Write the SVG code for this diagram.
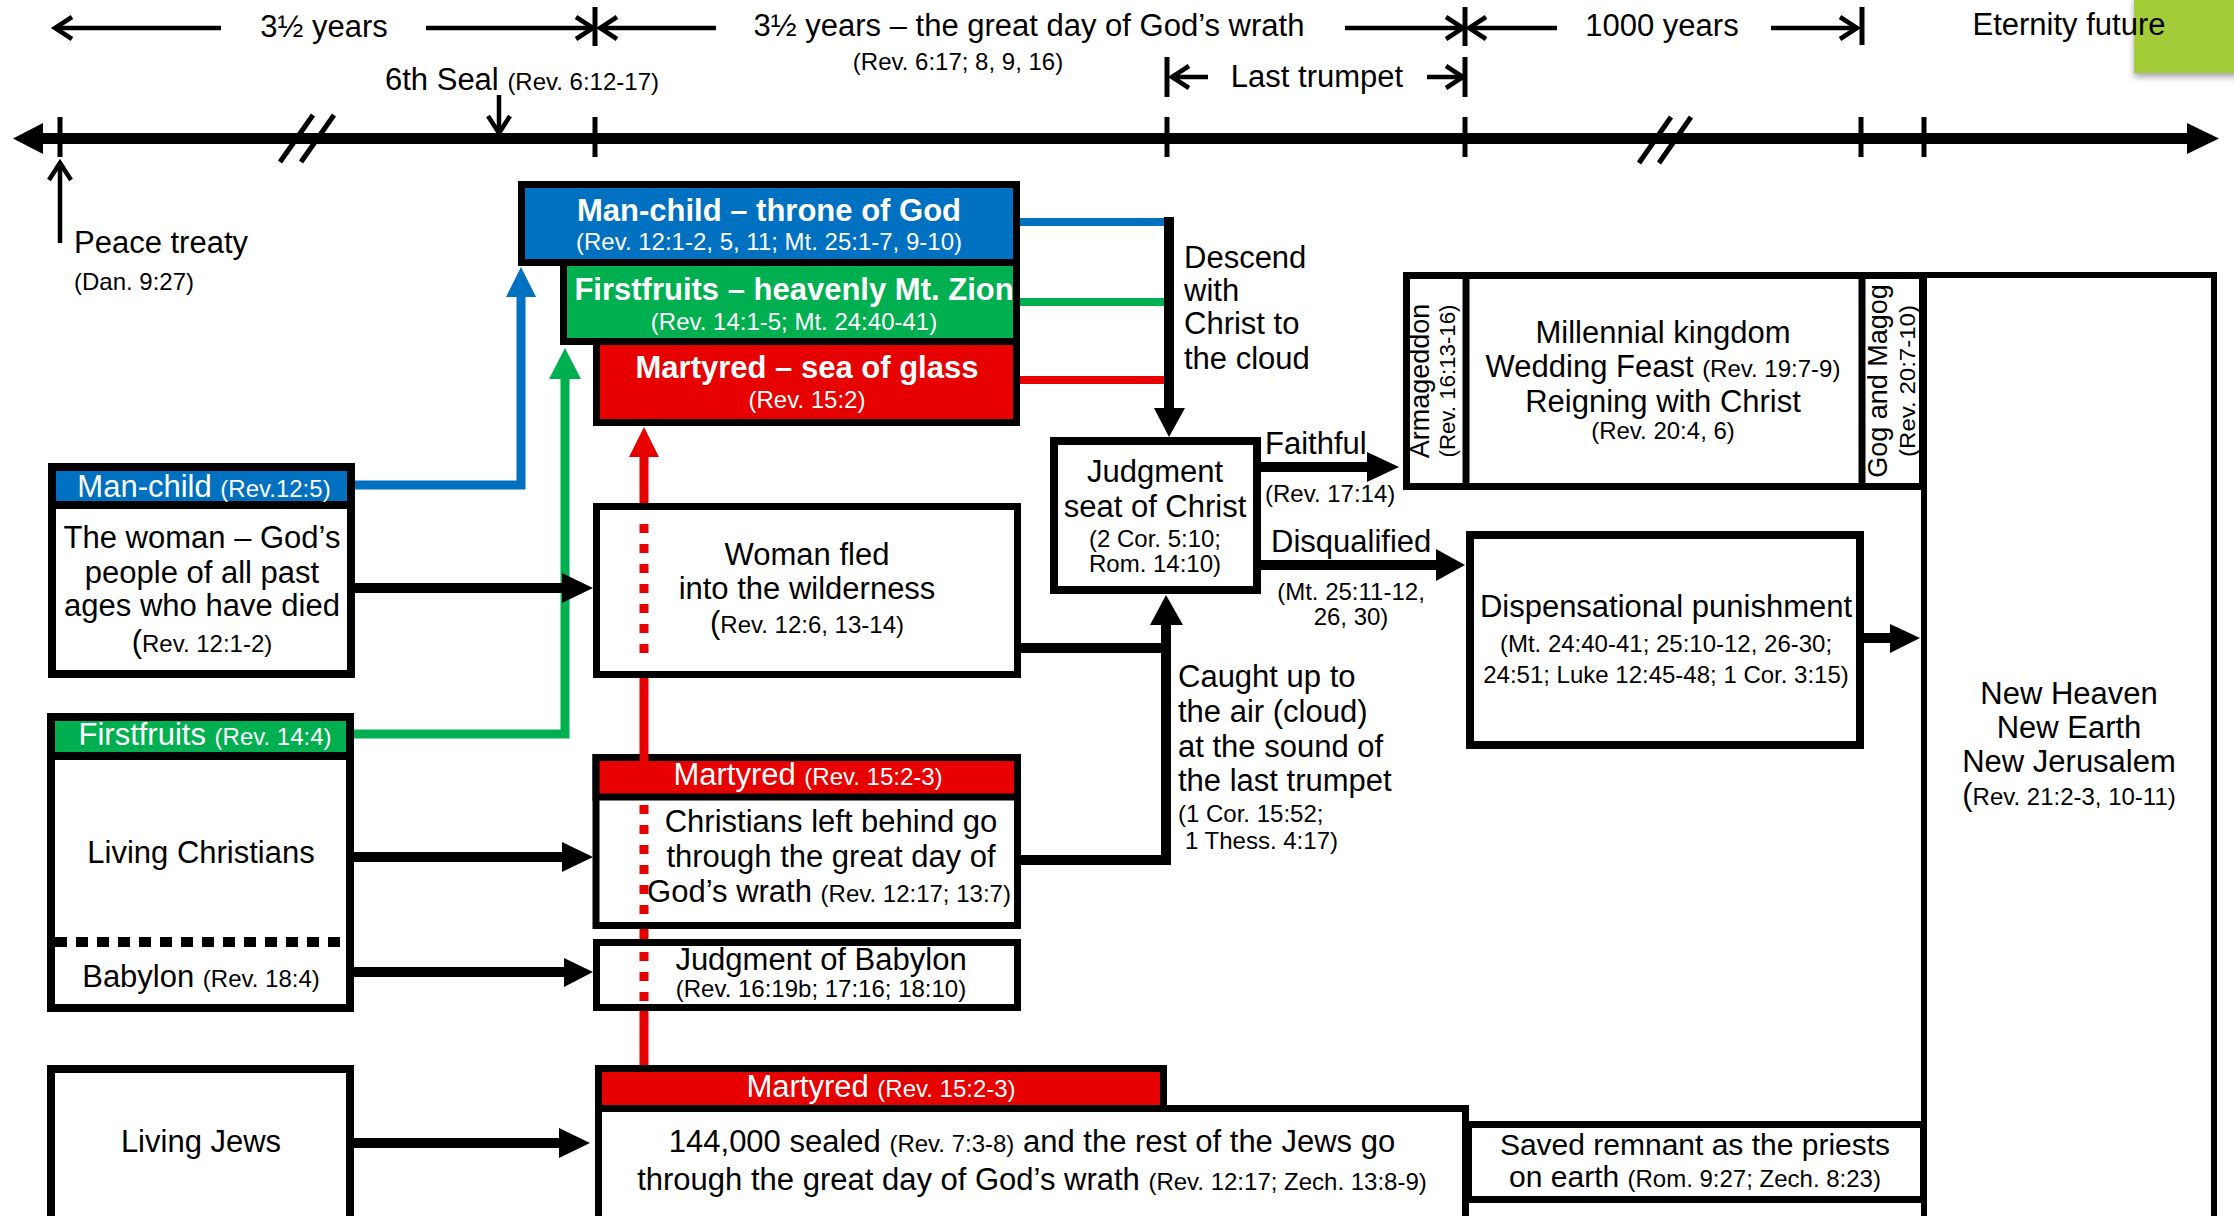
<svg xmlns="http://www.w3.org/2000/svg" width="2234" height="1216" viewBox="0 0 2234 1216">
<defs>
<style>
text{font-family:"Liberation Sans",Arial,sans-serif;font-size:31px;fill:#000}
.s{font-size:24px}
.p{font-size:31px}
.b{font-weight:bold}
.w{fill:#fff}
.c{text-anchor:middle}
.bx{fill:#fff;stroke:#000;stroke-width:7}
.bx8{fill:#fff;stroke:#000;stroke-width:8}
.blue{fill:#0070c0}
.green{fill:#00b050}
.red{fill:#e60000}
.ln{fill:none;stroke:#000;stroke-width:10}
.bar{fill:none;stroke:#000;stroke-width:5}
.thin{fill:none;stroke:#000;stroke-width:4.5;marker-end:url(#ch)}
.ah{fill:#000}
.rl{fill:none;stroke:#e60000;stroke-width:9}
.rd{fill:none;stroke:#e60000;stroke-width:9;stroke-dasharray:9 11}
</style>
<marker id="ch" markerUnits="userSpaceOnUse" viewBox="-24 -16 30 32" markerWidth="30" markerHeight="32" refX="0" refY="0" orient="auto">
<path d="M-17,-11 L0,0 L-17,11" fill="none" stroke="#000" stroke-width="4.5"/>
</marker>
<filter id="sh" x="-10%" y="-10%" width="130%" height="140%"><feDropShadow dx="0" dy="4" stdDeviation="3" flood-color="#000" flood-opacity="0.35"/></filter>
</defs>
<rect width="2234" height="1216" fill="#fff"/>
<rect x="2134" y="-5" width="105" height="78" fill="#a4cc39" filter="url(#sh)"/>

<g id="timeline">
<path d="M43,138.5 H2187" stroke="#000" stroke-width="11" fill="none"/>
<polygon class="ah" points="13,138.5 43,123 43,154"/>
<polygon class="ah" points="2219,138.5 2187,123 2187,154"/>
<path class="bar" d="M60,117V157 M595,117V157 M1167,117V157 M1465,117V157 M1861,117V157 M1924,117V157"/>
<path class="bar" d="M280,162 L313,115 M301,162 L334,115 M1639,163 L1671,117 M1659,163 L1691,117"/>
<path class="thin" d="M221,28 H55"/>
<path class="thin" d="M426,28 H593"/>
<path class="thin" d="M716,28 H600"/>
<path class="thin" d="M1345,28 H1463"/>
<path class="thin" d="M1557,28 H1469"/>
<path class="thin" d="M1771,28 H1857"/>
<path class="thin" d="M1208,77 H1172"/>
<path class="thin" d="M1427,77 H1463"/>
<path class="thin" d="M499,95 V133"/>
<path class="thin" d="M60,243 V163"/>
<path class="bar" d="M595,7V46 M1465,7V46 M1862,7V45 M1167,57V97 M1465,57V97" stroke-width="4.5"/>
<text class="c" x="324" y="37">3½ years</text>
<text class="c" x="1029" y="36">3½ years – the great day of God’s wrath</text>
<text class="c s" x="958" y="70">(Rev. 6:17; 8, 9, 16)</text>
<text class="c" x="1317" y="87">Last trumpet</text>
<text class="c" x="1662" y="36">1000 years</text>
<text class="c" x="2069" y="35">Eternity future</text>
<text x="385" y="90">6th Seal <tspan class="s">(Rev. 6:12-17)</tspan></text>
<text x="74" y="253">Peace treaty</text>
<text class="s" x="74" y="290">(Dan. 9:27)</text>
</g>

<g id="martyred-sea-of-glass">
<rect class="bx red" x="596.5" y="341.5" width="420" height="81"/>
<text class="c b w" x="807" y="378">Martyred – sea of glass</text>
<text class="c s w" x="807" y="408">(Rev. 15:2)</text>
</g>
<g id="firstfruits-mt-zion">
<rect class="bx green" x="563.5" y="262.5" width="453" height="79"/>
<text class="c b w" x="794" y="300">Firstfruits – heavenly Mt. Zion</text>
<text class="c s w" x="794" y="330">(Rev. 14:1-5; Mt. 24:40-41)</text>
</g>
<g id="manchild-throne">
<rect class="bx blue" x="521.5" y="184.5" width="495" height="78"/>
<text class="c b w" x="769" y="221">Man-child – throne of God</text>
<text class="c s w" x="769" y="250">(Rev. 12:1-2, 5, 11; Mt. 25:1-7, 9-10)</text>
</g>

<g id="judgment-seat">
<rect class="bx8" x="1054" y="441" width="203" height="149"/>
<text class="c" x="1155" y="482">Judgment</text>
<text class="c" x="1155" y="517">seat of Christ</text>
<text class="c s" x="1155" y="547">(2 Cor. 5:10;</text>
<text class="c s" x="1155" y="572">Rom. 14:10)</text>
</g>

<g id="millennium">
<rect class="bx" x="1406.5" y="275.5" width="516" height="211"/>
<path d="M1466,272V490 M1862,272V490" stroke="#000" stroke-width="7"/>
<text class="c" transform="translate(1429,381) rotate(-90)" style="font-size:27px">Armageddon</text>
<text class="c" transform="translate(1455,381) rotate(-90)" style="font-size:22px" textLength="153" lengthAdjust="spacingAndGlyphs">(Rev. 16:13-16)</text>
<text class="c" x="1663" y="343">Millennial kingdom</text>
<text class="c" x="1663" y="377">Wedding Feast <tspan class="s">(Rev. 19:7-9)</tspan></text>
<text class="c" x="1663" y="412">Reigning with Christ</text>
<text class="c s" x="1663" y="439">(Rev. 20:4, 6)</text>
<text class="c" transform="translate(1887,381) rotate(-90)" style="font-size:27px">Gog and Magog</text>
<text class="c" transform="translate(1915,381) rotate(-90)" style="font-size:22px" textLength="152" lengthAdjust="spacingAndGlyphs">(Rev. 20:7-10)</text>
</g>

<g id="new-heaven">
<rect x="1924" y="275" width="290" height="960" fill="#fff" stroke="#000" stroke-width="6"/>
<text class="c" x="2069" y="704">New Heaven</text>
<text class="c" x="2069" y="738">New Earth</text>
<text class="c" x="2069" y="772">New Jerusalem</text>
<text class="c s" x="2069" y="805"><tspan class="p">(</tspan>Rev. 21:2-3, 10-11)</text>
</g>

<g id="dispensational">
<rect class="bx8" x="1470" y="535" width="390" height="210"/>
<text class="c" x="1666" y="617">Dispensational punishment</text>
<text class="c s" x="1666" y="652">(Mt. 24:40-41; 25:10-12, 26-30;</text>
<text class="c s" x="1666" y="683">24:51; Luke 12:45-48; 1 Cor. 3:15)</text>
</g>

<g id="saved-remnant">
<rect class="bx" x="1468.5" y="1124.5" width="455" height="75"/>
<text class="c" x="1695" y="1155" style="font-size:30px">Saved remnant as the priests</text>
<text class="c" x="1695" y="1187" style="font-size:30px">on earth <tspan class="s">(Rom. 9:27; Zech. 8:23)</tspan></text>
</g>

<g id="jews-144000">
<rect class="bx red" x="598.5" y="1068.5" width="565" height="40"/>
<rect class="bx" x="598.5" y="1108.5" width="867" height="150"/>
<text class="c w" x="881" y="1097">Martyred <tspan class="s">(Rev. 15:2-3)</tspan></text>
<text class="c" x="1032" y="1152">144,000 sealed <tspan class="s">(Rev. 7:3-8)</tspan> and the rest of the Jews go</text>
<text class="c" x="1032" y="1190">through the great day of God’s wrath <tspan class="s">(Rev. 12:17; Zech. 13:8-9)</tspan></text>
</g>

<g id="woman-fled">
<rect class="bx" x="596.5" y="506.5" width="421" height="168"/>
<text class="c" x="807" y="565">Woman fled</text>
<text class="c" x="807" y="599">into the wilderness</text>
<text class="c s" x="807" y="633"><tspan class="p">(</tspan>Rev. 12:6, 13-14)</text>
</g>

<g id="christians-left-behind">
<rect class="bx" x="596" y="757.5" width="421.5" height="168"/>
<rect class="bx red" x="596" y="757.5" width="421.5" height="39.5"/>
<text class="c w" x="808" y="785">Martyred <tspan class="s">(Rev. 15:2-3)</tspan></text>
<text class="c" x="831" y="832">Christians left behind go</text>
<text class="c" x="831" y="867">through the great day of</text>
<text class="c" x="829" y="902">God’s wrath <tspan class="s">(Rev. 12:17; 13:7)</tspan></text>
</g>

<g id="judgment-babylon">
<rect class="bx" x="596.5" y="942.5" width="421" height="65"/>
<text class="c" x="821" y="970">Judgment of Babylon</text>
<text class="c s" x="821" y="997">(Rev. 16:19b; 17:16; 18:10)</text>
</g>

<g id="left-manchild">
<rect class="bx8" x="52" y="467" width="299" height="207"/>
<rect class="bx8 blue" x="52" y="467" width="299" height="38"/>
<text class="c w" x="204" y="497">Man-child <tspan class="s">(Rev.12:5)</tspan></text>
<text class="c" x="202" y="548">The woman – God’s</text>
<text class="c" x="202" y="583">people of all past</text>
<text class="c" x="202" y="616">ages who have died</text>
<text class="c s" x="202" y="652"><tspan class="p">(</tspan>Rev. 12:1-2)</text>
</g>

<g id="left-firstfruits">
<rect class="bx8" x="51" y="717" width="299" height="291"/>
<rect class="bx8 green" x="51" y="717" width="299" height="39"/>
<path d="M55,942 H347" stroke="#000" stroke-width="10" stroke-dasharray="12 9"/>
<text class="c w" x="205" y="745">Firstfruits <tspan class="s">(Rev. 14:4)</tspan></text>
<text class="c" x="201" y="863">Living Christians</text>
<text class="c" x="201" y="987">Babylon <tspan class="s">(Rev. 18:4)</tspan></text>
</g>

<g id="living-jews">
<rect class="bx8" x="51" y="1069" width="299" height="200"/>
<text class="c" x="201" y="1152">Living Jews</text>
</g>

<g id="connectors">
<path d="M355,485 H521 V296" fill="none" stroke="#0070c0" stroke-width="9"/>
<polygon points="521,267 506,297 536,297" fill="#0070c0"/>
<path d="M354,734 H565 V378" fill="none" stroke="#00b050" stroke-width="9"/>
<polygon points="565,348 549,379 581,379" fill="#00b050"/>
<path class="rl" d="M644,456 V503 M644,678 V761 M644,929 V939 M644,1011 V1065"/>
<polygon points="644,427 629,457 659,457" fill="#e60000"/>
<path class="rd" d="M644,524 V654 M644,805 V915 M644,952 V1002"/>
<path class="ln" d="M355,588 H563 M354,857 H563 M354,972 H565 M354,1143 H560"/>
<polygon class="ah" points="593,588 562,573 562,603"/>
<polygon class="ah" points="593,857 562,842 562,872"/>
<polygon class="ah" points="593,972 564,958 564,987"/>
<polygon class="ah" points="590,1143 559,1128 559,1158"/>
<path d="M1020,222 H1166" stroke="#0070c0" stroke-width="8"/>
<path d="M1020,302 H1166" stroke="#00b050" stroke-width="8"/>
<path d="M1020,380 H1166" stroke="#e60000" stroke-width="8"/>
<path class="ln" d="M1169,217 V409"/>
<polygon class="ah" points="1169,437 1154,408 1185,408"/>
<path class="ln" d="M1021,648 H1166 M1021,860 H1166 V624" stroke-linejoin="miter"/>
<polygon class="ah" points="1166,595 1150,625 1183,625"/>
<path class="ln" d="M1261,467 H1368"/>
<polygon class="ah" points="1399,467 1367,452 1367,482"/>
<path class="ln" d="M1261,565 H1437"/>
<polygon class="ah" points="1465,565 1436,549 1436,581"/>
<path class="ln" d="M1864,638 H1891"/>
<polygon class="ah" points="1920,638 1890,624 1890,653"/>
<text x="1184" y="268">Descend</text>
<text x="1184" y="301">with</text>
<text x="1184" y="334">Christ to</text>
<text x="1184" y="369">the cloud</text>
<text x="1265" y="454">Faithful</text>
<text class="s" x="1265" y="502">(Rev. 17:14)</text>
<text x="1271" y="552">Disqualified</text>
<text class="c s" x="1351" y="600">(Mt. 25:11-12,</text>
<text class="c s" x="1351" y="625">26, 30)</text>
<text x="1178" y="687">Caught up to</text>
<text x="1178" y="722">the air (cloud)</text>
<text x="1178" y="757">at the sound of</text>
<text x="1178" y="791">the last trumpet</text>
<text class="s" x="1178" y="822">(1 Cor. 15:52;</text>
<text class="s" x="1185" y="849">1 Thess. 4:17)</text>
</g>
</svg>
